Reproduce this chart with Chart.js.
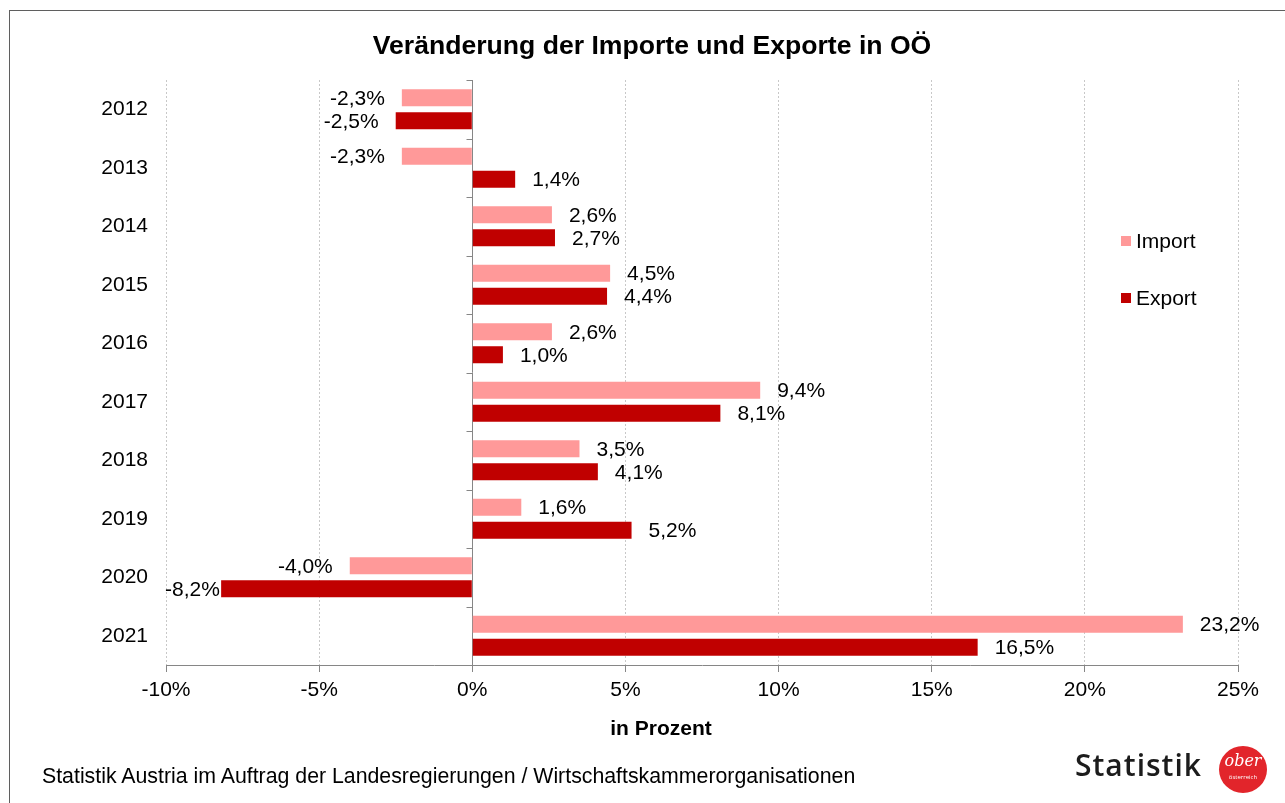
<!DOCTYPE html>
<html>
<head>
<meta charset="utf-8">
<script src="https://cdn.jsdelivr.net/npm/chart.js@4.4.1/dist/chart.umd.min.js"></script>
<style>
  html, body { margin: 0; padding: 0; background: #fff; }
  body { width: 1285px; height: 803px; position: relative; overflow: hidden; font-family: 'Liberation Sans', Arial, sans-serif; }
  #frame { position: absolute; left: 9px; top: 10px; width: 1400px; height: 900px; border-top: 1px solid #5f5f5f; border-left: 1px solid #5f5f5f; }
  #chart { position: absolute; left: 0; top: 0; }
  .title { position: absolute; left: 652px; top: 30px; transform: translateX(-50%); font-weight: bold; font-size: 26.6px; white-space: nowrap; color: #000; }
  .axis-title { position: absolute; left: 661px; top: 716px; transform: translateX(-50%); font-weight: bold; font-size: 21px; color: #000; }
  .source { position: absolute; left: 42px; top: 764px; font-size: 21.3px; color: #000; white-space: nowrap; }
  #legend { position: absolute; left: 1121px; top: 228px; }
  .leg-item { position: relative; height: 26px; margin-bottom: 31px; font-size: 21px; line-height: 26px; padding-left: 15px; color: #000; }
  .leg-box { position: absolute; left: 0; top: 8px; width: 10px; height: 10px; }
  .logo-text { position: absolute; left: 1075px; top: 744px; font-family: 'Open Sans', sans-serif; font-weight: 600; font-size: 30px; color: #1c1c1c; letter-spacing: 1px; }
  .logo-circle { position: absolute; left: 1219px; top: 746px; width: 48px; height: 47px; border-radius: 50%; background: #e2252b; color: #fff; text-align: center; }
  .logo-circle .ober { position: absolute; left: 0; right: 0; top: 5px; font-family: 'DejaVu Serif', serif; font-style: italic; font-size: 16px; }
  .logo-circle .oe { position: absolute; left: 0; right: 0; top: 27px; font-family: 'Open Sans', sans-serif; font-size: 6px; }
</style>
</head>
<body>
<div id="frame"></div>
<canvas id="chart" width="1285" height="803"></canvas>
<div class="title">Veränderung der Importe und Exporte in OÖ</div>
<div class="axis-title">in Prozent</div>
<div class="source">Statistik Austria im Auftrag der Landesregierungen / Wirtschaftskammerorganisationen</div>
<div id="legend"></div>
<div class="logo-text">Statistik</div>
<div class="logo-circle"><span class="ober">ober</span><span class="oe">österreich</span></div>
<script>
const years = ['2012', '2013', '2014', '2015', '2016', '2017', '2018', '2019', '2020', '2021'];
const importValues = [-2.3, -2.3, 2.6, 4.5, 2.6, 9.4, 3.5, 1.6, -4.0, 23.2];
const exportValues = [-2.5, 1.4, 2.7, 4.4, 1.0, 8.1, 4.1, 5.2, -8.2, 16.5];
const seriesNames = ['Import', 'Export'];
const seriesColors = ['#ff9999', '#c00000'];
const xMin = -10, xMax = 25, xStep = 5;

Chart.defaults.font.family = "'Liberation Sans', Arial, sans-serif";
Chart.defaults.color = '#000';

const fmt = v => v.toFixed(1).replace('.', ',') + '%';

// legend (html, sits inside the plot like in the original)
const legendEl = document.getElementById('legend');
seriesNames.forEach((name, i) => {
    const item = document.createElement('div');
    item.className = 'leg-item';
    item.innerHTML = '<span class="leg-box" style="background:' + seriesColors[i] + '"></span>' + name;
    legendEl.appendChild(item);
});

// zero line with small category ticks
const zeroAxis = {
    id: 'zeroAxis',
    beforeDatasetsDraw(chart) {
        const { ctx, chartArea, scales } = chart;
        const x0 = Math.round(scales.x.getPixelForValue(0)) + 0.5;
        ctx.save();
        ctx.strokeStyle = '#868686';
        ctx.lineWidth = 1;
        ctx.beginPath();
        ctx.moveTo(x0, chartArea.top);
        ctx.lineTo(x0, chartArea.bottom);
        for (let k = 0; k <= years.length; k++) {
            const y = Math.round(scales.y.getPixelForValue(k - 0.5)) + 0.5;
            ctx.moveTo(x0 - 6, y);
            ctx.lineTo(x0, y);
        }
        ctx.stroke();
        ctx.restore();
    }
};

// value labels at bar ends
const valueLabels = {
    id: 'valueLabels',
    afterDatasetsDraw(chart) {
        const { ctx, chartArea } = chart;
        ctx.save();
        ctx.font = "21px 'Liberation Sans', Arial, sans-serif";
        ctx.fillStyle = '#000';
        ctx.textBaseline = 'middle';
        chart.data.datasets.forEach((ds, di) => {
            chart.getDatasetMeta(di).data.forEach((bar, i) => {
                const v = ds.data[i];
                const txt = fmt(v);
                if (v >= 0) {
                    ctx.textAlign = 'left';
                    ctx.fillText(txt, bar.x + 17, bar.y + 1);
                } else {
                    const w = ctx.measureText(txt).width;
                    let x = bar.x - 17;
                    if (x - w < chartArea.left - 1) x = chartArea.left - 1 + w;
                    ctx.textAlign = 'right';
                    ctx.fillText(txt, x, bar.y + 1);
                }
            });
        });
        ctx.restore();
    }
};

new Chart(document.getElementById('chart'), {
    type: 'bar',
    data: {
        labels: years,
        datasets: [
            { label: seriesNames[0], data: importValues, backgroundColor: seriesColors[0] },
            { label: seriesNames[1], data: exportValues, backgroundColor: seriesColors[1] }
        ]
    },
    options: {
        indexAxis: 'y',
        responsive: false,
        animation: false,
        categoryPercentage: 0.786,
        barPercentage: 0.74,
        layout: { padding: { left: 0, right: 47, top: 80, bottom: 98 } },
        plugins: {
            legend: { display: false },
            tooltip: { enabled: false }
        },
        scales: {
            x: {
                min: xMin,
                max: xMax,
                afterFit(scale) { scale.height = 40; },
                ticks: {
                    stepSize: xStep,
                    padding: 6,
                    font: { size: 21 },
                    color: '#000',
                    callback: v => v + '%'
                },
                grid: {
                    color: c => (c.tick && c.tick.value === 0) ? 'rgba(0,0,0,0)' : '#c8c8c8',
                    tickColor: '#868686',
                    tickLength: 7,
                    tickBorderDash: []
                },
                border: { display: true, color: '#868686', width: 1, dash: [2, 2] }
            },
            y: {
                afterFit(scale) { scale.width = 166; },
                grid: { display: false },
                border: { display: false },
                ticks: { font: { size: 21 }, color: '#000', padding: 10 }
            }
        }
    },
    plugins: [zeroAxis, valueLabels]
});
</script>
</body>
</html>
